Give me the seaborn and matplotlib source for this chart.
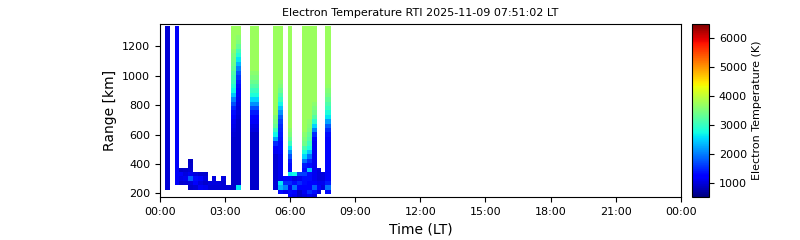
import numpy as np
import pandas as pd
import seaborn as sns
import matplotlib
matplotlib.use("Agg")
import matplotlib.pyplot as plt

N = np.nan

title = "Electron Temperature RTI 2025-11-09 07:51:02 LT"
x_label = "Time (LT)"
y_label = "Range [km]"
cbar_label = "Electron Temperature (K)"
x_tick_hours = [0, 3, 6, 9, 12, 15, 18, 21, 24]
x_tick_labels = ["00:00", "03:00", "06:00", "09:00", "12:00", "15:00", "18:00", "21:00", "00:00"]
y_ticks = [200, 400, 600, 800, 1000, 1200]

# time bin edges (hours LT)
time_edges_h = [0.00, 0.23, 0.46, 0.69, 0.88, 1.08, 1.31, 1.52, 1.75, 1.98, 2.20,
                2.40, 2.60, 2.83, 3.03, 3.28, 3.51, 3.74, 4.15, 4.57, 5.21, 5.45,
                5.68, 5.88, 6.09, 6.31, 6.54, 6.77, 7.00, 7.23, 7.43, 7.61, 7.89, 24.0]

# range gate edges (km)
range_edges_km = [165, 195, 225, 255, 285, 315, 345, 375, 405, 435, 465, 495, 525,
                  555, 585, 615, 645, 675, 705, 735, 765, 795, 825, 855, 885, 915,
                  945, 975, 1005, 1035, 1065, 1095, 1125, 1155, 1185, 1215, 1245,
                  1275, 1305, 1340]

# electron temperature profiles (K), bottom gate -> top gate, one per time bin
te_00 = None
te_01 = [N, N, 950, 950, 950, 950, 950, 950, 950, 950, 950, 950, 950, 950, 950, 950,
         950, 950, 950, 950, 950, 950, 950, 950, 950, 950, 950, 950, 950, 950, 950,
         950, 950, 950, 950, 950, 950, 950, 950]
te_02 = None
te_03 = [N, N, N, 1150, 1150, 1150, 1150, 1150, 1150, 1150, 1150, 1150, 1150, 1150,
         1150, 1150, 1150, 1150, 1150, 1150, 1150, 1150, 1150, 1150, 1150, 1150, 1150,
         1150, 1150, 1150, 1150, 1150, 1150, 1150, 1150, 1150, 1150, 1150, 1150]
te_04 = [N, N, N, 900, 1050, 1150, 850, N, N, N, N, N, N, N, N, N, N, N, N, N, N,
         N, N, N, N, N, N, N, N, N, N, N, N, N, N, N, N, N, N]
te_05 = [N, N, N, 950, 1100, 1000, 900, N, N, N, N, N, N, N, N, N, N, N, N, N, N,
         N, N, N, N, N, N, N, N, N, N, N, N, N, N, N, N, N, N]
te_06 = [N, N, 900, 1000, 1800, 1100, 950, 900, 850, N, N, N, N, N, N, N, N, N, N,
         N, N, N, N, N, N, N, N, N, N, N, N, N, N, N, N, N, N, N, N]
te_07 = [N, N, 950, 1200, 1300, 1000, N, N, N, N, N, N, N, N, N, N, N, N, N, N, N,
         N, N, N, N, N, N, N, N, N, N, N, N, N, N, N, N, N, N]
te_08 = [N, N, 1150, 1000, 1200, 900, N, N, N, N, N, N, N, N, N, N, N, N, N, N, N,
         N, N, N, N, N, N, N, N, N, N, N, N, N, N, N, N, N, N]
te_09 = [N, N, 1100, 900, 1000, 900, N, N, N, N, N, N, N, N, N, N, N, N, N, N, N,
         N, N, N, N, N, N, N, N, N, N, N, N, N, N, N, N, N, N]
te_10 = [N, N, 950, 1000, N, N, N, N, N, N, N, N, N, N, N, N, N, N, N, N, N,
         N, N, N, N, N, N, N, N, N, N, N, N, N, N, N, N, N, N]
te_11 = [N, N, 950, 1000, 1000, N, N, N, N, N, N, N, N, N, N, N, N, N, N, N, N,
         N, N, N, N, N, N, N, N, N, N, N, N, N, N, N, N, N, N]
te_12 = [N, N, 950, 1000, N, N, N, N, N, N, N, N, N, N, N, N, N, N, N, N, N,
         N, N, N, N, N, N, N, N, N, N, N, N, N, N, N, N, N, N]
te_13 = [N, N, 950, 950, 1000, N, N, N, N, N, N, N, N, N, N, N, N, N, N, N, N,
         N, N, N, N, N, N, N, N, N, N, N, N, N, N, N, N, N, N]
te_14 = [N, N, 950, N, N, N, N, N, N, N, N, N, N, N, N, N, N, N, N, N, N,
         N, N, N, N, N, N, N, N, N, N, N, N, N, N, N, N, N, N]
te_15 = [N, N, 900, 900, 900, 900, 900, 900, 900, 900, 900, 900, 900, 900, 950, 1000,
         1050, 1100, 1200, 1300, 1450, 1700, 2000, 2400, 2700, 2850, 3000, 3100, 3200,
         3300, 3400, 3450, 3500, 3600, 3700, 3700, 3700, 3700, 3700]
te_16 = [N, N, 2600, 900, 900, 900, 900, 900, 900, 900, 900, 900, 900, 900, 900, 900,
         900, 900, 950, 1000, 1000, 1050, 1100, 1150, 1200, 1300, 1400, 1550, 1750,
         2000, 2300, 2600, 2850, 3050, 3300, 3500, 3600, 3700, 3700]
te_17 = None
te_18 = [N, N, 900, 900, 900, 900, 900, 900, 900, 900, 900, 900, 900, 900, 900, 1000,
         1050, 1150, 1250, 1400, 1700, 2100, 2500, 2800, 3000, 3200, 3350, 3500, 3600,
         3700, 3700, 3700, 3700, 3700, 3700, 3700, 3700, 3700, 3700]
te_19 = None
te_20 = [N, N, 950, 950, 950, 950, 950, 950, 950, 950, 1100, 1200, 1500, 2200, 2700,
         3000, 3300, 3450, 3550, 3700, 3700, 3700, 3700, 3700, 3700, 3700, 3700, 3700,
         3700, 3700, 3700, 3700, 3700, 3700, 3700, 3700, 3700, 3700, 3700]
te_21 = [N, 1300, 2300, 2600, 1100, 1100, 1100, 1100, 1100, 1100, 1250, 1300, 1300,
         1350, 1400, 1450, 1500, 1600, 1800, 2100, 2400, 2700, 2950, 3150, 3350, 3500,
         3600, 3700, 3700, 3700, 3700, 3700, 3700, 3700, 3700, 3700, 3700, 3700, 3700]
te_22 = [N, 1100, 2000, 1500, 1200, N, N, N, N, N, N, N, N, N, N, N, N, N, N, N, N,
         N, N, N, N, N, N, N, N, N, N, N, N, N, N, N, N, N, N]
te_23 = [1200, 1300, 1100, 1500, 1200, 2600, 1300, 1300, 1400, 1700, 2100, 2600, 3000,
         3300, 3500, 3600, 3700, 3700, 3700, 3700, 3700, 3700, 3700, 3700, 3700, 3700,
         3700, 3700, 3700, 3700, 3700, 3700, 3700, 3700, 3700, 3700, 3700, 3700, 3700]
te_24 = [1100, 1200, 1900, 1300, 1000, 2700, N, N, N, N, N, N, N, N, N, N, N, N, N,
         N, N, N, N, N, N, N, N, N, N, N, N, N, N, N, N, N, N, N, N]
te_25 = [900, 900, 1200, 1500, 1100, 1600, N, N, N, N, N, N, N, N, N, N, N, N, N,
         N, N, N, N, N, N, N, N, N, N, N, N, N, N, N, N, N, N, N, N]
te_26 = [1000, 1100, 1200, 1300, 1300, 1600, 1300, 1400, 1900, 2500, 2800, 3100, 3400,
         3500, 3600, 3700, 3700, 3700, 3700, 3700, 3700, 3700, 3700, 3700, 3700, 3700,
         3700, 3700, 3700, 3700, 3700, 3700, 3700, 3700, 3700, 3700, 3700, 3700, 3700]
te_27 = [1100, 1500, 1200, 1200, 1300, 1300, 2400, 1300, 1500, 1900, 2400, 2800, 3000,
         3200, 3300, 3450, 3550, 3600, 3700, 3700, 3700, 3700, 3700, 3700, 3700, 3700,
         3700, 3700, 3700, 3700, 3700, 3700, 3700, 3700, 3700, 3700, 3700, 3700, 3700]
te_28 = [1000, 1300, 1800, 1200, 1100, 1100, 1100, 1100, 1100, 1100, 1100, 1100, 1100,
         1200, 1500, 2000, 2500, 2900, 3200, 3400, 3500, 3600, 3700, 3700, 3700, 3700,
         3700, 3700, 3700, 3700, 3700, 3700, 3700, 3700, 3700, 3700, 3700, 3700, 3700]
te_29 = [N, 1000, 1200, 1100, 1000, 1000, 1000, N, N, N, N, N, N, N, N, N, N, N, N,
         N, N, N, N, N, N, N, N, N, N, N, N, N, N, N, N, N, N, N, N]
te_30 = [N, N, 1000, 1100, 1000, 1000, N, N, N, N, N, N, N, N, N, N, N, N, N,
         N, N, N, N, N, N, N, N, N, N, N, N, N, N, N, N, N, N, N, N]
te_31 = [N, 1300, 1900, 1400, 1250, 1250, 1250, 1250, 1250, 1250, 1250, 1250, 1250,
         1250, 1300, 1500, 1800, 2200, 2600, 2800, 3000, 3150, 3300, 3450, 3550, 3650,
         3700, 3700, 3700, 3700, 3700, 3700, 3700, 3700, 3700, 3700, 3700, 3700, 3700]
te_32 = None

profiles = [te_00, te_01, te_02, te_03, te_04, te_05, te_06, te_07, te_08, te_09,
            te_10, te_11, te_12, te_13, te_14, te_15, te_16, te_17, te_18, te_19,
            te_20, te_21, te_22, te_23, te_24, te_25, te_26, te_27, te_28, te_29,
            te_30, te_31, te_32]

n_gates = len(range_edges_km) - 1
n_bins = len(time_edges_h) - 1
columns = {}
for j, prof in enumerate(profiles):
    if prof is None:
        columns[j] = [N] * n_gates
    else:
        assert len(prof) == n_gates, (j, len(prof))
        columns[j] = prof
df = pd.DataFrame(columns)  # rows: range gates, cols: time bins
grid = np.ma.masked_invalid(df.to_numpy(dtype=float))

sns.set_style("ticks", {"axes.edgecolor": "black", "xtick.color": "black",
                        "ytick.color": "black", "text.color": "black",
                        "axes.labelcolor": "black"})
plt.rcParams["font.family"] = ["DejaVu Sans"]

fig = plt.figure(figsize=(8, 2.4), dpi=100)
ax = fig.add_axes([0.200, 0.179, 0.651, 0.721])
cax = fig.add_axes([0.865, 0.179, 0.0213, 0.721])

cmap = plt.get_cmap("jet")
mesh = ax.pcolormesh(time_edges_h, range_edges_km, grid, cmap=cmap,
                     vmin=500, vmax=6470, shading="flat")
ax.set_xlim(0, 24)
ax.set_ylim(175, 1353)
ax.set_xticks(x_tick_hours)
ax.set_xticklabels(x_tick_labels, fontsize=8)
ax.set_yticks(y_ticks)
ax.set_yticklabels([str(v) for v in y_ticks], fontsize=8)
ax.set_xlabel(x_label, fontsize=10)
ax.set_ylabel(y_label, fontsize=10)
ax.set_title(title, fontsize=8)
for s in ax.spines.values():
    s.set_linewidth(0.8)

cb = fig.colorbar(mesh, cax=cax)
cb.set_label(cbar_label, fontsize=8)
cb.ax.tick_params(labelsize=8)
cb.outline.set_linewidth(0.8)

fig.savefig("out.png", dpi=100)
